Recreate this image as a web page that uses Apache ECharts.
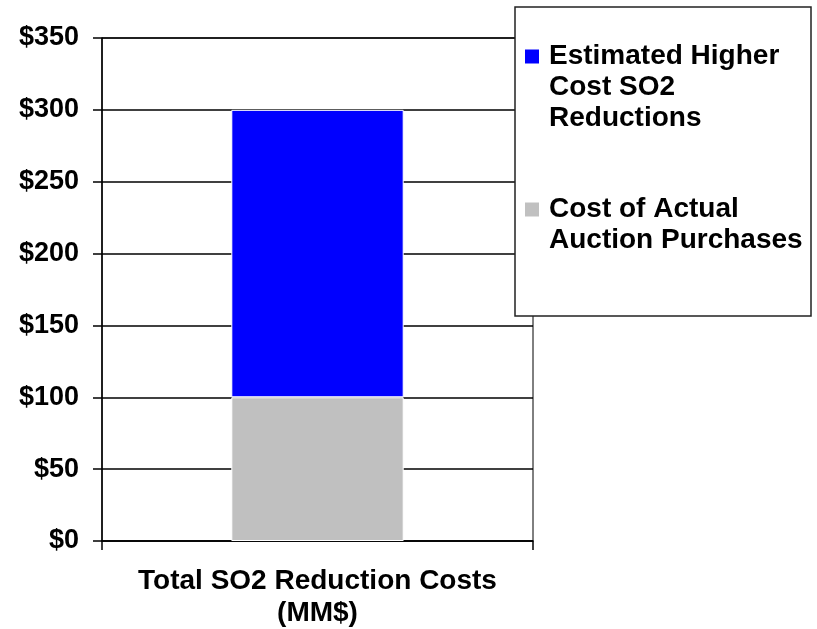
<!DOCTYPE html>
<html>
<head>
<meta charset="utf-8">
<script src="https://cdn.jsdelivr.net/npm/echarts@6/dist/echarts.min.js"></script>
<style>
  html, body { margin: 0; padding: 0; background: #fff; }
  #chart { width: 817px; height: 629px; }
</style>
</head>
<body>
<div id="chart"></div>
<script>
// data
var categories = ['Total SO2 Reduction Costs\n(MM$)'];
var actualPurchases = [100];   // grey, bottom
var higherCost = [200];        // blue, stacked on top (reaches $300)
var seriesNames = ['Estimated Higher Cost SO2 Reductions', 'Cost of Actual Auction Purchases'];
var legendLines = [
    ['Estimated Higher', 'Cost SO2', 'Reductions'],
    ['Cost of Actual', 'Auction Purchases']
];
var yTicks = { min: 0, max: 350, interval: 50 };

var font = 'Liberation Sans, Arial, sans-serif';
var chart = echarts.init(document.getElementById('chart'));

// the legend centres text on the icon; blank lines in front put the first line level with it
function legendText(idx) {
    var lines = legendLines[idx];
    var pad = [];
    for (var i = 1; i < lines.length; i++) pad.push(' ');
    return pad.concat(lines).join('\n');
}

function legendFor(idx, top) {
    return {
        orient: 'vertical',
        left: 525,
        top: top,
        padding: 0,
        z: 20,
        selectedMode: false,
        icon: 'rect',
        itemWidth: 14,
        itemHeight: 14,
        itemStyle: { borderWidth: 0 },
        data: [seriesNames[idx]],
        formatter: function () { return legendText(idx); },
        textStyle: {
            fontFamily: font,
            fontWeight: 'bold',
            fontSize: 28,
            lineHeight: 31,
            color: '#000',
            padding: [0, 0, 0, 5]
        }
    };
}

var option = {
    backgroundColor: '#fff',
    animation: false,
    grid: {
        left: 102,
        right: 284,
        top: 38,
        bottom: 88,
        show: true,
        borderColor: '#000',
        borderWidth: 1
    },
    graphic: [{
        type: 'rect',
        z: 10,
        shape: { x: 515, y: 7, width: 296, height: 309 },
        style: { fill: '#fff', stroke: '#222', lineWidth: 1.5 }
    }],
    legend: [
        legendFor(0, -21),
        legendFor(1, 163)
    ],
    xAxis: {
        type: 'category',
        data: categories,
        axisLine: { lineStyle: { color: '#000', width: 1.5 } },
        axisTick: { show: true, length: 9, lineStyle: { color: '#000', width: 1.5 } },
        axisLabel: {
            margin: 24,
            fontFamily: font,
            fontWeight: 'bold',
            fontSize: 28,
            lineHeight: 32,
            color: '#000'
        }
    },
    yAxis: {
        type: 'value',
        min: yTicks.min,
        max: yTicks.max,
        interval: yTicks.interval,
        axisLine: { show: true, lineStyle: { color: '#000', width: 1.5 } },
        axisTick: { show: true, length: 9, lineStyle: { color: '#000', width: 1.5 } },
        splitLine: { show: true, lineStyle: { color: '#000', width: 1.5 } },
        axisLabel: {
            margin: 23,
            fontFamily: font,
            fontWeight: 'bold',
            fontSize: 27,
            color: '#000',
            formatter: function (v) { return '$' + v; }
        }
    },
    series: [
        {
            name: seriesNames[1],
            type: 'bar',
            stack: 'cost',
            barWidth: '40%',
            data: actualPurchases,
            itemStyle: { color: '#C0C0C0', borderColor: '#fff', borderWidth: 1 }
        },
        {
            name: seriesNames[0],
            type: 'bar',
            stack: 'cost',
            barWidth: '40%',
            data: higherCost,
            itemStyle: { color: '#0000FF', borderColor: '#fff', borderWidth: 1 }
        }
    ]
};

chart.setOption(option);
</script>
</body>
</html>
